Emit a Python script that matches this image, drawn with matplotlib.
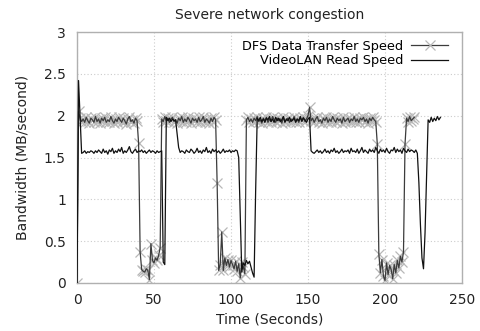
import numpy as np
import matplotlib
matplotlib.use("Agg")
import matplotlib.pyplot as plt
from matplotlib.lines import Line2D

title = "Severe network congestion"
x_label = "Time (Seconds)"
y_label = "Bandwidth (MB/second)"
series_names = ["DFS Data Transfer Speed", "VideoLAN Read Speed"]
x_ticks = [0, 50, 100, 150, 200, 250]
y_ticks = [0, 0.5, 1, 1.5, 2, 2.5, 3]
y_tick_labels = ["0", "0.5", "1", "1.5", "2", "2.5", "3"]

# DFS data transfer speed, one value per second starting at t = 0
dfs_speed = [
    0.00, 2.05, 1.97, 1.93, 1.96, 1.92, 1.98, 1.94, 1.91, 1.97,
    1.95, 1.92, 1.99, 1.93, 1.96, 1.91, 1.97, 1.94, 1.98, 1.92,
    1.95, 1.93, 1.99, 1.94, 1.91, 1.96, 1.93, 1.98, 1.95, 1.92,
    1.97, 1.94, 1.90, 1.96, 1.99, 1.93, 1.95, 1.91, 1.97, 1.94,
    1.67, 0.37, 0.16, 0.14, 0.13, 0.17, 0.15, 0.04, 0.47, 0.27,
    0.24, 0.30, 0.27, 0.33, 0.42, 1.96, 1.93, 1.99, 1.94, 1.97,
    1.92, 1.96, 1.98, 1.93, 1.95, 1.91, 1.97, 1.94, 1.99, 1.92,
    1.96, 1.93, 1.98, 1.95, 1.91, 1.97, 1.94, 1.96, 1.92, 1.98,
    1.93, 1.95, 1.99, 1.92, 1.96, 1.94, 1.91, 1.97, 1.93, 1.98,
    1.95, 1.19, 0.15, 0.22, 0.61, 0.15, 0.30, 0.21, 0.28, 0.19,
    0.27, 0.22, 0.17, 0.26, 0.14, 0.23, 0.06, 0.25, 0.19, 0.11,
    1.95, 1.98, 1.93, 1.96, 1.92, 1.97, 1.94, 1.99, 1.93, 1.95,
    1.91, 1.97, 1.94, 1.98, 1.92, 1.96, 1.93, 1.99, 1.95, 1.92,
    1.97, 1.94, 1.96, 1.91, 1.98, 1.93, 1.95, 1.97, 1.92, 1.96,
    1.94, 1.99, 1.93, 1.96, 1.92, 1.97, 1.95, 1.98, 1.93, 1.96,
    2.00, 2.10, 1.94, 1.97, 1.92, 1.96, 1.99, 1.93, 1.95, 1.91,
    1.97, 1.94, 1.98, 1.92, 1.96, 1.93, 1.99, 1.95, 1.92, 1.97,
    1.94, 1.96, 1.91, 1.98, 1.93, 1.95, 1.97, 1.92, 1.96, 1.94,
    1.99, 1.93, 1.96, 1.92, 1.97, 1.95, 1.98, 1.93, 1.96, 1.91,
    1.97, 1.94, 1.98, 1.95, 1.93, 1.66, 0.35, 0.12, 0.28, 0.08,
    0.03, 0.24, 0.10, 0.21, 0.16, 0.05, 0.22, 0.12, 0.27, 0.18,
    0.32, 0.25, 0.37, 1.66, 1.97, 1.93, 1.99, 1.94, 1.96, 1.98,
]

# VideoLAN read speed, one value per second starting at t = 0
vlc_speed = [
    0.00, 2.42, 1.98, 1.55, 1.56, 1.58, 1.55, 1.57, 1.56, 1.58,
    1.57, 1.55, 1.58, 1.56, 1.59, 1.57, 1.55, 1.60, 1.56, 1.58,
    1.54, 1.59, 1.57, 1.61, 1.55, 1.58, 1.56, 1.60, 1.57, 1.62,
    1.55, 1.58, 1.56, 1.59, 1.63, 1.57, 1.55, 1.58, 1.60, 1.56,
    1.58, 1.57, 1.59, 1.56, 1.58, 1.55, 1.57, 1.59, 1.56, 1.58,
    1.57, 1.55, 1.58, 1.56, 1.57, 1.58, 0.25, 0.22, 1.98, 1.94,
    1.97, 1.93, 1.96, 1.94, 1.95, 1.78, 1.62, 1.56, 1.58, 1.57,
    1.55, 1.59, 1.57, 1.56, 1.60, 1.58, 1.55, 1.57, 1.61, 1.56,
    1.58, 1.55, 1.59, 1.57, 1.62, 1.56, 1.58, 1.55, 1.60, 1.57,
    1.59, 1.56, 1.58, 1.55, 1.57, 1.60, 1.56, 1.58, 1.57, 1.59,
    1.56, 1.58, 1.57, 1.59, 1.58, 1.50, 0.80, 0.13, 0.24, 0.21,
    0.27, 0.23, 0.26, 0.19, 0.12, 0.07, 1.10, 1.97, 1.94, 1.98,
    1.93, 1.96, 1.92, 1.97, 1.95, 1.99, 1.93, 1.96, 1.92, 1.98,
    1.94, 1.97, 1.93, 1.95, 1.99, 1.92, 1.96, 1.94, 1.98, 1.93,
    1.95, 1.97, 1.92, 1.96, 1.94, 1.99, 1.93, 1.97, 1.95, 1.92,
    1.96, 1.98, 1.58, 1.56, 1.55, 1.57, 1.59, 1.56, 1.58, 1.55,
    1.57, 1.60, 1.56, 1.58, 1.55, 1.59, 1.57, 1.61, 1.56, 1.58,
    1.55, 1.57, 1.60, 1.56, 1.58, 1.57, 1.59, 1.55, 1.61, 1.57,
    1.58, 1.56, 1.60, 1.55, 1.58, 1.62, 1.56, 1.59, 1.57, 1.55,
    1.60, 1.57, 1.59, 1.56, 1.62, 1.58, 1.55, 1.60, 1.57, 1.59,
    1.56, 1.61, 1.57, 1.55, 1.59, 1.58, 1.62, 1.56, 1.60, 1.57,
    1.59, 1.55, 1.61, 1.58, 1.56, 1.60, 1.57, 1.59, 1.58, 1.56,
    1.59, 1.55, 1.20, 0.70, 0.30, 0.17, 0.60, 1.30, 1.95, 1.92,
    1.98, 1.93, 1.97, 1.94, 1.99, 1.95, 1.98,
]

dfs_time = np.arange(len(dfs_speed))
vlc_time = np.arange(len(vlc_speed))

plt.rcParams['font.family'] = ['DejaVu Sans']
fig = plt.figure(figsize=(4.81, 3.31), dpi=100)
ax = fig.add_axes([77 / 481, 1 - 283 / 331, (462 - 77) / 481, (283 - 32) / 331])

marker_color = '#b8b8b8'
dfs_line_color = '#3c3c3c'
vlc_color = '#111111'
text_color = '#222222'

ax.plot(dfs_time, dfs_speed, linestyle='none', marker='x', markersize=7.5,
        markeredgewidth=0.9, markeredgecolor=marker_color, zorder=2)
ax.plot(dfs_time, dfs_speed, color=dfs_line_color, linewidth=0.9, zorder=3)
ax.plot(vlc_time, vlc_speed, color=vlc_color, linewidth=0.9, zorder=4)

ax.set_xlim(0, 250)
ax.set_ylim(0, 3)
ax.set_xticks(x_ticks)
ax.set_yticks(y_ticks)
ax.set_yticklabels(y_tick_labels)
ax.tick_params(axis='y', length=0, pad=8, labelsize=10, colors=text_color)
ax.tick_params(axis='x', length=0, pad=7, labelsize=10, colors=text_color)
ax.grid(True, linestyle=(0, (1, 2)), color='#cccccc', linewidth=0.8)
for s in ax.spines.values():
    s.set_color('#b0b0b0')
    s.set_linewidth(1.0)

ax.set_xlabel(x_label, fontsize=10, color=text_color, labelpad=4)
ax.set_ylabel(y_label, fontsize=10, color=text_color, labelpad=10)
ax.set_title(title, fontsize=10, color=text_color, pad=9)

handles = [
    Line2D([], [], color=dfs_line_color, linewidth=0.9, marker='x', markersize=7.5,
           markeredgecolor=marker_color, markeredgewidth=0.9),
    Line2D([], [], color=vlc_color, linewidth=0.9),
]
ax.legend(handles, series_names, loc='upper right', frameon=False, markerfirst=False,
          fontsize=9.3, handlelength=2.9, numpoints=1, borderaxespad=0.2,
          handletextpad=0.6, labelspacing=0.1, bbox_to_anchor=(0.985, 1.0))

fig.savefig("out.png", dpi=100)
